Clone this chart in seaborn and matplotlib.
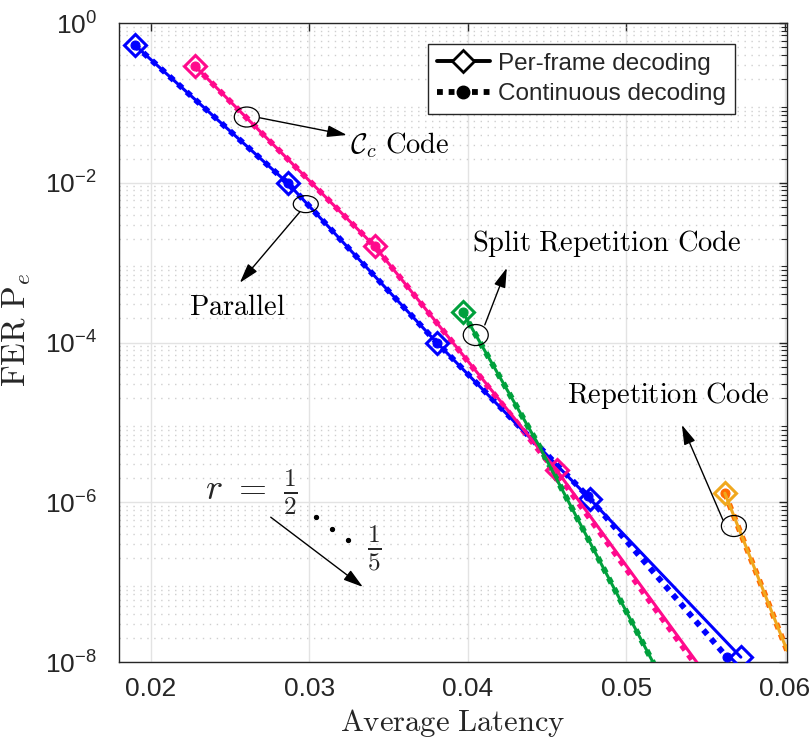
import numpy as np
import pandas as pd
import seaborn as sns
import matplotlib
matplotlib.use("Agg")
import matplotlib.pyplot as plt
from matplotlib.patches import Ellipse
from matplotlib.lines import Line2D
from matplotlib.transforms import ScaledTranslation
from matplotlib.ticker import LogLocator, FixedLocator, NullFormatter

# ---------------- data ----------------
par_pf_x = [0.01899, 0.02864, 0.03804, 0.04770, 0.05722]
par_pf_y = [0.53, 9.9e-3, 1.0e-4, 1.1e-6, 1.15e-8]
par_cd_x = [0.01899, 0.02864, 0.03804, 0.04755, 0.05634]
par_cd_y = [0.53, 9.9e-3, 1.0e-4, 1.2e-6, 1.15e-8]

cc_pf_x = [0.02278, 0.03413, 0.03905, 0.04561, 0.05700]
cc_pf_y = [0.29, 1.6e-3, 1.0e-4, 2.5e-6, 2.0e-9]
cc_cd_x = [0.02278, 0.03413, 0.03905, 0.04550, 0.05680]
cc_cd_y = [0.29, 1.6e-3, 1.0e-4, 2.5e-6, 2.0e-9]

srep_pf_x = [0.03968, 0.04454, 0.05167, 0.05300]
srep_pf_y = [2.4e-4, 4.9e-6, 1.0e-8, 2.3e-9]
srep_cd_x = [0.03968, 0.04454, 0.05167, 0.05300]
srep_cd_y = [2.4e-4, 4.9e-6, 1.0e-8, 2.3e-9]

rep_pf_x = [0.05621, 0.06013]
rep_pf_y = [1.3e-6, 1.4e-8]
rep_cd_x = [0.05621, 0.06013]
rep_cd_y = [1.3e-6, 1.4e-8]

xticks = [0.02, 0.03, 0.04, 0.05, 0.06]
xticklabels = ["0.02", "0.03", "0.04", "0.05", "0.06"]
yticks = [1e-8, 1e-6, 1e-4, 1e-2, 1e0]
yticklabels = ["10$^{-8}$", "10$^{-6}$", "10$^{-4}$", "10$^{-2}$", "10$^{0}$"]

legend_labels = ["Per-frame decoding", "Continuous decoding"]

BLUE = "#0000FF"
PINK = "#FF0A8C"
GREEN = "#00A03C"
ORANGE_S = "#F0A81E"
ORANGE_D = "#FF6A00"

sns.set_theme(style="white")
plt.rcParams["font.family"] = ["Liberation Sans", "DejaVu Sans"]
plt.rcParams["mathtext.fontset"] = "custom"
plt.rcParams["mathtext.rm"] = "Liberation Sans"
plt.rcParams["mathtext.it"] = "Liberation Sans:italic"

fig = plt.figure(figsize=(8.1, 7.47), dpi=100)
ax = fig.add_axes([119/810, 1-662/747, (787-119)/810, (662-23)/747])

def series(xs, ys):
    return pd.DataFrame({"x": xs, "y": ys})

groups = [
    # pf_x, pf_y, cd_x, cd_y, solid colour, dotted colour, pf markers, cd markers
    (par_pf_x, par_pf_y, par_cd_x, par_cd_y, BLUE, BLUE, [0, 1, 2, 3, 4], [0, 1, 2, 3, 4]),
    (cc_pf_x, cc_pf_y, cc_cd_x, cc_cd_y, PINK, PINK, [0, 1, 3], [0, 1, 3]),
    (srep_pf_x, srep_pf_y, srep_cd_x, srep_cd_y, GREEN, GREEN, [0], [0]),
    (rep_pf_x, rep_pf_y, rep_cd_x, rep_cd_y, ORANGE_S, ORANGE_D, [0], [0]),
]

for pfx, pfy, cdx, cdy, cs, cd, mpf, mcd in groups:
    sns.lineplot(data=series(cdx, cdy), x="x", y="y", ax=ax, color=cd, lw=4.2,
                 linestyle=(0, (1, 1)), marker="o", ms=6.5, mec=cd, mfc=cd,
                 markevery=mcd, estimator=None, sort=False, zorder=3)
    sns.lineplot(data=series(pfx, pfy), x="x", y="y", ax=ax, color=cs, lw=2.2,
                 marker="D", ms=11, mec=cs, mfc="none", mew=2.2,
                 markevery=mpf, estimator=None, sort=False, zorder=4)

ax.set_yscale("log")
ax.set_xlim(0.018, 0.06013)
ax.set_ylim(1e-8, 1)

ax.xaxis.set_major_locator(FixedLocator(xticks))
ax.set_xticklabels(xticklabels)
ax.yaxis.set_major_locator(FixedLocator(yticks))
ax.set_yticklabels(yticklabels)
ax.yaxis.set_minor_locator(LogLocator(base=10, subs=np.arange(2, 10), numticks=50))
ax.yaxis.set_minor_formatter(NullFormatter())

ax.grid(True, which="major", axis="both", color="#e3e3e3", lw=1.0, ls="-")
ax.grid(True, which="minor", axis="y", color="#cfcfcf", lw=1.0, ls=(0, (1, 4)))
ax.set_axisbelow(True)

ax.tick_params(axis="both", which="both", direction="in", top=True, right=True,
               colors="#262626", labelcolor="#262626")
ax.tick_params(axis="both", which="major", length=6, width=1.0, labelsize=19)
ax.tick_params(axis="y", which="minor", length=4, width=0.8)
ax.tick_params(axis="x", which="major", pad=11)
ax.tick_params(axis="y", which="major", pad=16)
for s in ax.spines.values():
    s.set_color("#262626")
    s.set_linewidth(1.0)

ax.set_xlabel(r"$\mathrm{Average\ Latency}$", fontsize=22, math_fontfamily="cm", labelpad=4)
ax.set_ylabel(r"$\mathrm{FER\ P}_e$", fontsize=24, math_fontfamily="cm")
ax.yaxis.set_label_coords(-0.128, 0.52)

# legend
handles = [
    Line2D([], [], color="black", lw=2.8, marker="D", ms=11, mfc="white", mec="black", mew=2),
    Line2D([], [], color="black", lw=4.2, linestyle=(0, (1, 1)), marker="o", ms=9, mfc="black", mec="black"),
]
leg = ax.legend(handles, legend_labels, loc="upper right",
                bbox_to_anchor=(735/810, 1-44/747), bbox_transform=fig.transFigure,
                fontsize=17.5, frameon=True, fancybox=False, framealpha=1,
                edgecolor="#262626", borderpad=0.35, labelspacing=0.35,
                handlelength=2.2, handletextpad=0.35, borderaxespad=0)
leg.get_frame().set_linewidth(1.0)

# annotations (positions in data coordinates)
def ellipse_at(x, y, w_px, h_px):
    tr = fig.dpi_scale_trans + ScaledTranslation(x, y, ax.transData)
    e = Ellipse((0, 0), w_px/100, h_px/100, transform=tr, fill=False,
                edgecolor="black", lw=0.9, zorder=6, clip_on=False)
    ax.add_artist(e)

arrow_kw = dict(arrowstyle="-|>,head_length=1.0,head_width=0.3", color="black", lw=1.0,
                shrinkA=0, shrinkB=0)
TXT = dict(math_fontfamily="cm", fontsize=20.5, color="black", zorder=7)

ellipse_at(0.02606, 6.65e-2, 25, 20)
ax.annotate("", xy=(0.03237, 3.96e-2), xytext=(0.02688, 6.5e-2), arrowprops=arrow_kw, zorder=7)
ax.text(0.03256, 2.97e-2, r"$\mathcal{C}_c\ \mathrm{Code}$", ha="left", va="center", **TXT)

ellipse_at(0.02978, 5.4e-3, 25, 17)
ax.annotate("", xy=(0.02562, 5.6e-4), xytext=(0.0294, 4.3e-3), arrowprops=arrow_kw, zorder=7)
ax.text(0.02549, 2.7e-4, r"$\mathrm{Parallel}$", ha="center", va="center", **TXT)

ellipse_at(0.04050, 1.24e-4, 25, 21)
ax.annotate("", xy=(0.04246, 8.6e-4), xytext=(0.04107, 1.66e-4), arrowprops=arrow_kw, zorder=7)
ax.text(0.04877, 1.76e-3, r"$\mathrm{Split\ Repetition\ Code}$", ha="center", va="center", **TXT)

ellipse_at(0.05678, 5.04e-7, 25, 21)
ax.annotate("", xy=(0.05350, 9.3e-6), xytext=(0.05609, 6.0e-7), arrowprops=arrow_kw, zorder=7)
ax.text(0.05262, 2.14e-5, r"$\mathrm{Repetition\ Code}$", ha="center", va="center", **TXT)

ax.text(0.02637, 1.34e-6, r"$r\ =\ \frac{1}{2}$", ha="center", va="center",
        math_fontfamily="cm", fontsize=26, zorder=7)
ax.plot([0.03041, 0.03142, 0.03243], [6.5e-7, 4.6e-7, 3.37e-7], ls="none",
        marker="o", ms=2.8, color="black", zorder=7)
ax.text(0.03413, 2.67e-7, r"$\frac{1}{5}$", ha="center", va="center",
        math_fontfamily="cm", fontsize=26, zorder=7)
ax.annotate("", xy=(0.03338, 8.7e-8), xytext=(0.02757, 6.5e-7), arrowprops=arrow_kw, zorder=7)

fig.savefig("out.png", dpi=100)
